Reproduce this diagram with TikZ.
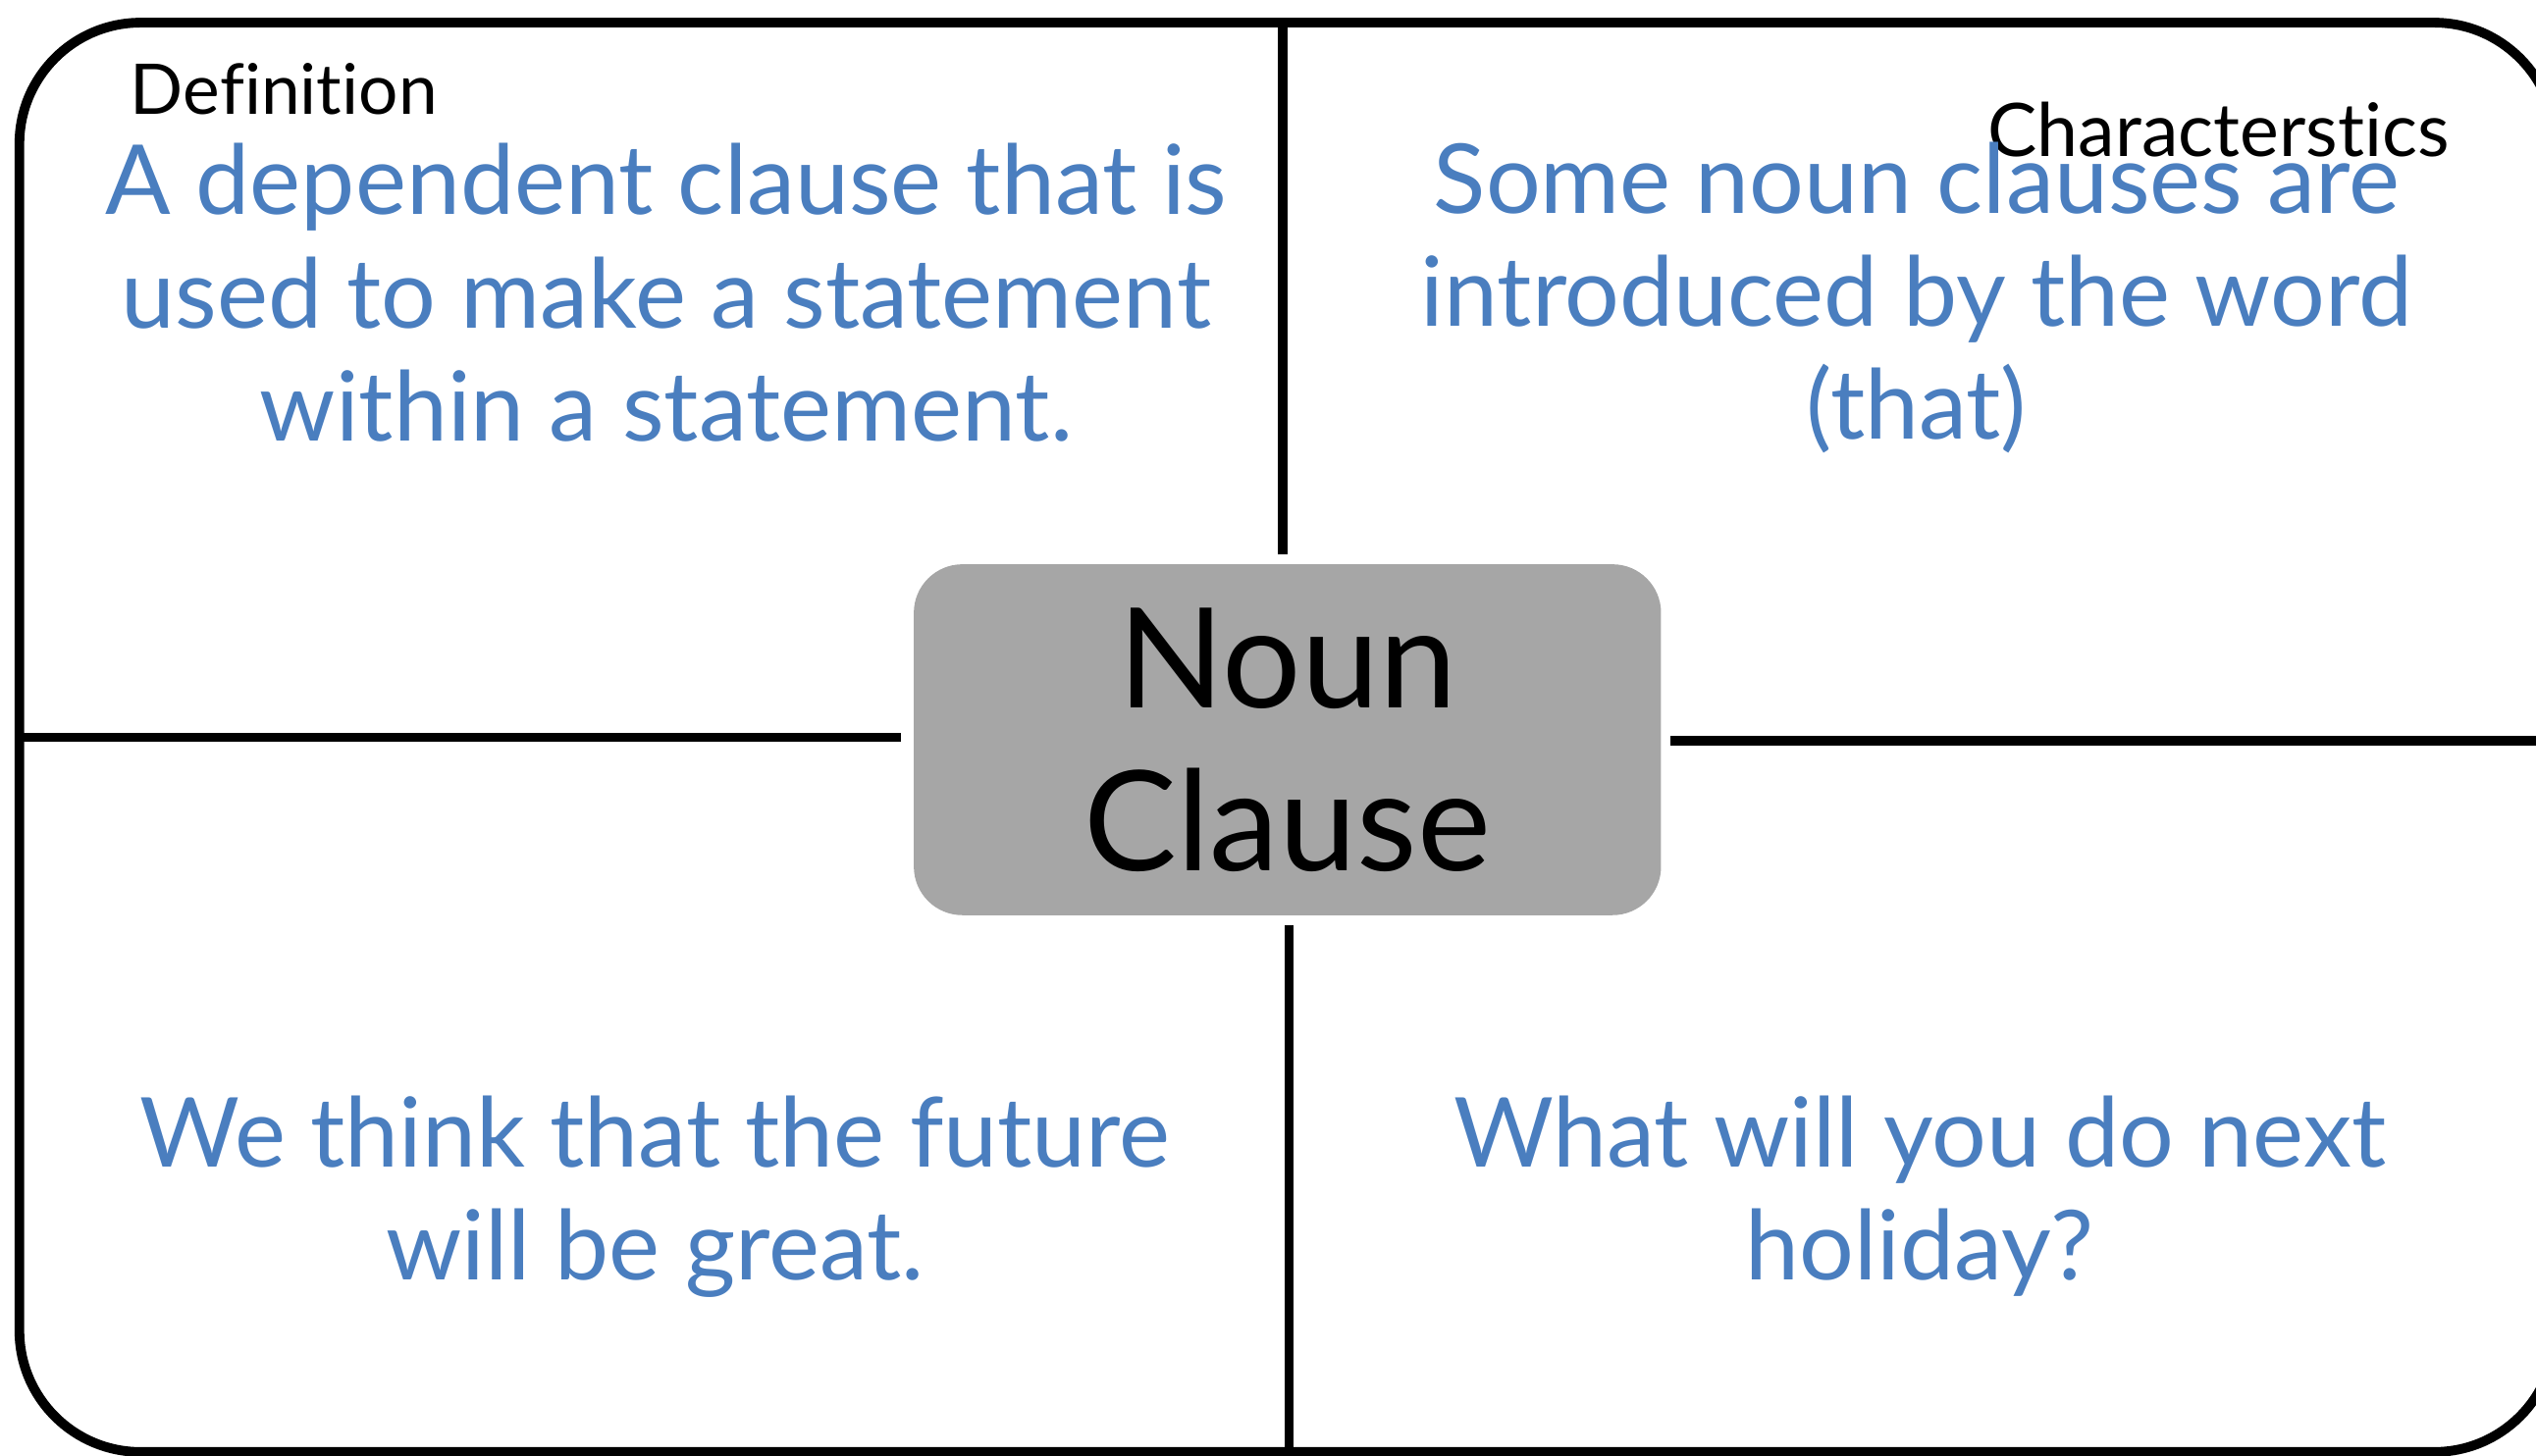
\documentclass[tikz,border=0pt]{standalone}
\usepackage{fontspec}
\setmainfont[Ligatures=NoCommon]{Lato}
\definecolor{txtblue}{HTML}{4A7EBF}
\definecolor{boxgray}{HTML}{A6A6A6}
\begin{document}
\begin{tikzpicture}[
  frame/.style={line width=1.7pt, rounded corners=0.75cm},
  divider/.style={line width=1.7pt},
  quad/.style={text=txtblue, align=center, font=\fontsize{17}{19.9}\selectfont, inner sep=0pt},
  lab/.style={text=black, inner sep=0pt},
  core/.style={fill=boxgray, rounded corners=0.3cm, minimum width=4.62cm, minimum height=2.17cm, align=center, font=\fontsize{24.5}{28.7}\selectfont, inner sep=0pt}
]
\useasboundingbox (0,0) rectangle (15.68,9.00);
\draw[frame] (0.12,0.02) rectangle (15.80,8.86);

\node[core] (nc) at (7.96,4.425) {Noun\\Clause};

\coordinate (tt) at (7.93,8.86);
\coordinate (tb) at (7.93,5.57);
\coordinate (bt) at (7.97,3.28);
\coordinate (bb) at (7.97,0.02);
\coordinate (ll) at (0.12,4.44);
\coordinate (lr) at (5.57,4.44);
\coordinate (rl) at (10.33,4.42);
\coordinate (rr) at (15.80,4.42);
\draw[divider] (tt) -- (tb);
\draw[divider] (bt) -- (bb);
\draw[divider] (ll) -- (lr);
\draw[divider] (rl) -- (rr);

\node[lab, anchor=west, font=\fontsize{12.3}{14}\selectfont] (def) at (0.80,8.45) {Definition};
\node[lab, anchor=east, font=\fontsize{13}{15}\selectfont] (cha) at (15.15,8.20) {Characterstics};

\node[quad] (q1) at (4.12,7.19) {A dependent clause that is\\used to make a statement\\within a statement.};
\node[quad] (q2) at (11.85,7.16) {Some noun clauses are\\introduced by the word\\(that)};
\node[quad] (q3) at (4.05,1.60) {We think that the future\\will be great.};
\node[quad] (q4) at (11.87,1.60) {What will you do next\\holiday?};
\end{tikzpicture}
\end{document}
